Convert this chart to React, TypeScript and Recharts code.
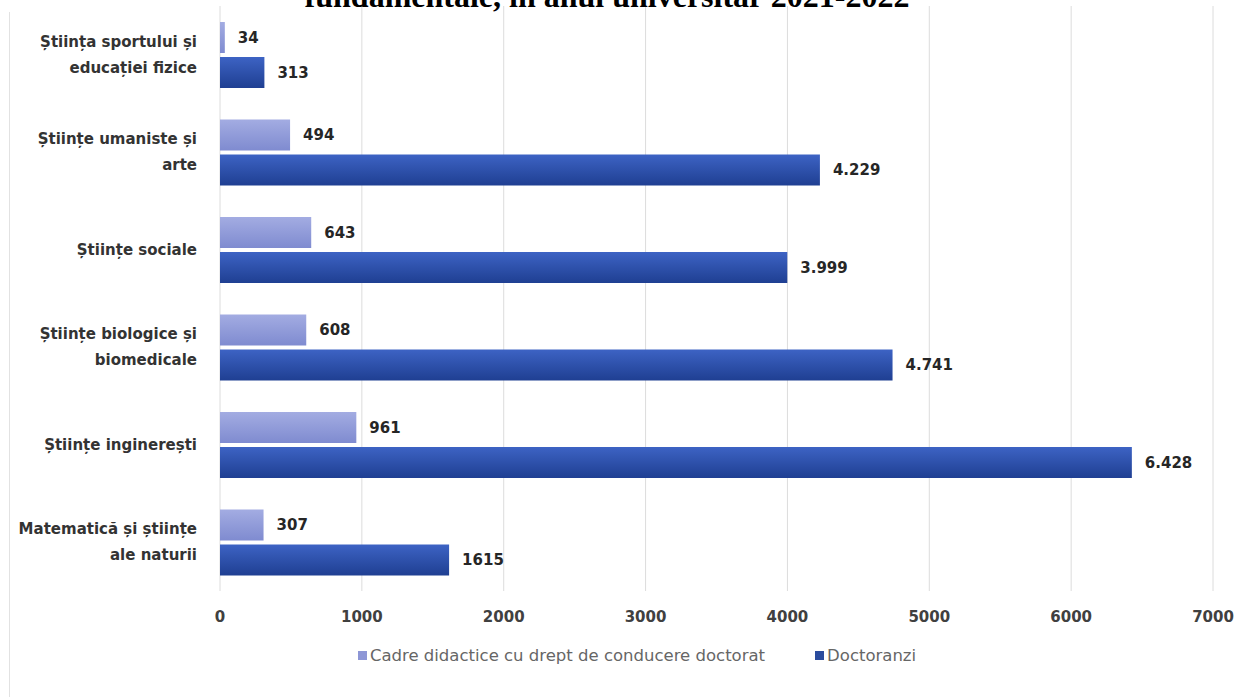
import { BarChart, Bar, XAxis, YAxis, CartesianGrid, Legend, LabelList } from 'recharts';

const categories = [
  'Știința sportului și\neducației fizice',
  'Științe umaniste și\narte',
  'Științe sociale',
  'Științe biologice și\nbiomedicale',
  'Științe inginerești',
  'Matematică și științe\nale naturii',
];
const cadre = [34, 494, 643, 608, 961, 307];
const doctoranzi = [313, 4229, 3999, 4741, 6428, 1615];
const cadreLabels = ['34', '494', '643', '608', '961', '307'];
const doctoranziLabels = ['313', '4.229', '3.999', '4.741', '6.428', '1615'];
const xTicks = [0, 1000, 2000, 3000, 4000, 5000, 6000, 7000];

const data = categories.map((name, i) => ({
  name,
  cadre: cadre[i],
  doctoranzi: doctoranzi[i],
  cadreLabel: cadreLabels[i],
  doctoranziLabel: doctoranziLabels[i],
}));

const font = '"DejaVu Sans", sans-serif';

const CategoryTick = ({ x, y, payload }) => {
  const lines = String(payload.value).split('\n');
  const start = y - ((lines.length - 1) * 26) / 2;
  return (
    <text x={x - 15} y={start} textAnchor="end" dominantBaseline="central"
      fontFamily={font} fontSize={15} fontWeight={700} fill="#333">
      {lines.map((l, i) => (
        <tspan key={i} x={x - 15} y={start + i * 26}>{l}</tspan>
      ))}
    </text>
  );
};

const LegendContent = () => (
  <div style={{ display: 'flex', justifyContent: 'center', gap: 50, paddingLeft: 24, fontFamily: font, fontSize: 16.5, color: '#666' }}>
    <span style={{ display: 'flex', alignItems: 'center' }}>
      <span style={{ width: 9, height: 9, background: '#8d96d6', marginRight: 3 }} />
      Cadre didactice cu drept de conducere doctorat
    </span>
    <span style={{ display: 'flex', alignItems: 'center' }}>
      <span style={{ width: 9, height: 9, background: '#2b4c9e', marginRight: 3 }} />
      Doctoranzi
    </span>
  </div>
);

export default function App() {
  return (
    <div style={{ position: 'absolute', left: 0, top: 0, width: 1250, height: 697, background: '#fff', overflow: 'hidden' }}>
      <div style={{ position: 'absolute', left: 9, top: 12, width: 1, height: 685, background: '#e2e2e2' }} />
      <div style={{ position: 'absolute', left: -18, width: 1250, top: -20, textAlign: 'center', fontFamily: '"Liberation Serif", serif', fontWeight: 700, fontSize: 32, lineHeight: '32px', color: '#000', zIndex: 2 }}>
        fundamentale, în anul universitar 2021-2022
      </div>
      <BarChart
        width={1250}
        height={697}
        data={data}
        layout="vertical"
        margin={{ top: 6, right: 37, left: 0, bottom: 57 }}
        barSize={31}
        barGap={4}
        barCategoryGap={0}
      >
        <defs>
          <linearGradient id="gCadre" x1="0" y1="0" x2="0" y2="1">
            <stop offset="0%" stopColor="#a3ace2" />
            <stop offset="100%" stopColor="#7f8bd0" />
          </linearGradient>
          <linearGradient id="gDoc" x1="0" y1="0" x2="0" y2="1">
            <stop offset="0%" stopColor="#3d63c4" />
            <stop offset="100%" stopColor="#1f3f92" />
          </linearGradient>
        </defs>
        <CartesianGrid horizontal={false} stroke="#dcdcdc" />
        <XAxis type="number" domain={[0, 7000]} ticks={xTicks} axisLine={false} tickLine={false}
          height={30} tickMargin={14} tick={{ fontFamily: font, fontSize: 15, fontWeight: 700, fill: '#404040' }} />
        <YAxis type="category" dataKey="name" width={220} axisLine={false} tickLine={false} tick={CategoryTick} interval={0} />
        <Legend content={LegendContent} wrapperStyle={{ top: 646, bottom: 'auto', left: 0, width: 1250 }} />
        <Bar dataKey="cadre" fill="url(#gCadre)" isAnimationActive={false}>
          <LabelList dataKey="cadreLabel" position="right" offset={13}
            style={{ fontFamily: font, fontSize: 15, fontWeight: 700, fill: '#262626' }} />
        </Bar>
        <Bar dataKey="doctoranzi" fill="url(#gDoc)" isAnimationActive={false}>
          <LabelList dataKey="doctoranziLabel" position="right" offset={13}
            style={{ fontFamily: font, fontSize: 15, fontWeight: 700, fill: '#262626' }} />
        </Bar>
      </BarChart>
    </div>
  );
}
